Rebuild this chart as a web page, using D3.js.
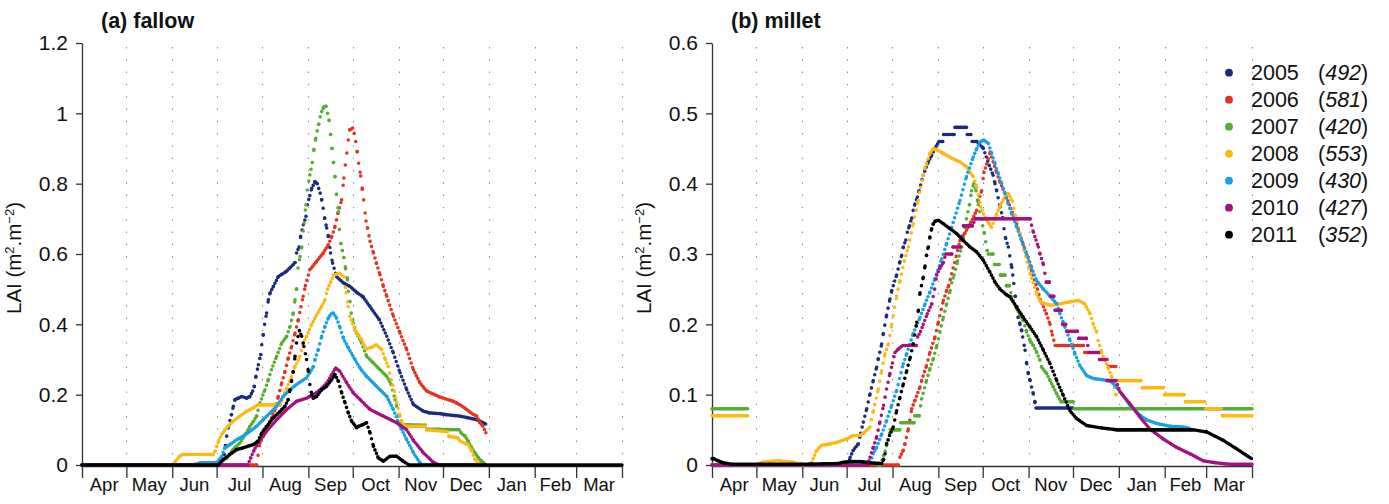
<!DOCTYPE html>
<html>
<head>
<meta charset="utf-8">
<script src="https://cdn.jsdelivr.net/npm/d3@7"></script>
<style>
  body { margin: 0; background: #fff; }
  svg { display: block; font-family: "Liberation Sans", Arial, Helvetica, sans-serif; }
</style>
</head>
<body>
<svg id="chart" width="1389" height="504"></svg>
<script>
// ---- Season (1 April to 31 March), days counted from 1 April ----
const monthLabels = ["Apr", "May", "Jun", "Jul", "Aug", "Sep", "Oct", "Nov", "Dec", "Jan", "Feb", "Mar"];

// ---- Legend: year and seasonal rainfall (mm) ----
const years = ["2005", "2006", "2007", "2008", "2009", "2010", "2011"];
const rainfall = ["492", "581", "420", "553", "430", "427", "352"];
const yearColors = ["#1d2b7e", "#e63222", "#55ad32", "#fdb913", "#17a1e2", "#a3117e", "#000000"];

// ---- Y ticks ----
const fallowTicks = [0, 0.2, 0.4, 0.6, 0.8, 1, 1.2];
const fallowTickLabels = ["0", "0.2", "0.4", "0.6", "0.8", "1", "1.2"];
const milletTicks = [0, 0.1, 0.2, 0.3, 0.4, 0.5, 0.6];
const milletTickLabels = ["0", "0.1", "0.2", "0.3", "0.4", "0.5", "0.6"];

// ---- LAI series: [day since 1 April, LAI]; null marks a gap in the record ----
// (a) fallow
const fallow2005 = [[0,0],[95,0],[96,0.03],[97,0.055],[97.8,0.082],[99,0.11],[101,0.143],[102.3,0.167],[103.4,0.186],[105.6,0.19],[108,0.195],[111.3,0.19],[113.5,0.195],[115.4,0.21],[116.5,0.224],[117.6,0.252],[119.2,0.285],[120.8,0.314],[121.5,0.342],[122.5,0.37],[123.4,0.4],[124.8,0.432],[126,0.47],[127.2,0.49],[129.4,0.508],[132.7,0.536],[138,0.55],[142.8,0.57],[144,0.576],[145,0.603],[146.7,0.62],[147.8,0.65],[149.6,0.683],[151.4,0.707],[152.3,0.74],[154,0.766],[155.3,0.787],[157.5,0.806],[159,0.8],[161,0.773],[162,0.754],[163,0.73],[164,0.702],[165.4,0.674],[166.5,0.65],[168,0.603],[169.4,0.574],[172,0.536],[176.6,0.518],[181,0.508],[186,0.49],[190,0.478],[194.7,0.45],[201,0.413],[206,0.366],[210.4,0.319],[215,0.262],[219.5,0.214],[224,0.172],[230.7,0.153],[235,0.148],[242,0.146],[246.5,0.143],[255.5,0.139],[266.8,0.129],[273.5,0.115]];
const fallow2006 = [[0,0],[118,0],[120.3,0.063],[122.5,0.082],[125,0.1],[127,0.124],[130.4,0.158],[132.7,0.195],[135,0.233],[137.2,0.266],[139.4,0.304],[141.7,0.337],[144,0.375],[146.2,0.413],[148,0.45],[149.5,0.48],[151,0.51],[154,0.555],[158.6,0.579],[163,0.603],[166.5,0.626],[168.8,0.65],[171,0.678],[173,0.716],[175.5,0.754],[177,0.816],[178,0.853],[179,0.887],[180,0.924],[181,0.953],[183,0.958],[184,0.943],[185,0.92],[186,0.891],[187,0.858],[188.4,0.822],[189.5,0.784],[190.4,0.754],[192,0.694],[193,0.674],[194.7,0.636],[197,0.603],[199,0.574],[201.4,0.541],[203.7,0.508],[206,0.48],[210.5,0.423],[215,0.375],[219.5,0.328],[224,0.271],[228.5,0.233],[233,0.21],[242,0.193],[251,0.181],[256,0.17],[260,0.158],[264,0.145],[266.8,0.139],[269,0.12],[271,0.11],[273.5,0.087]];
const fallow2007 = [[0,0],[90,0],[93,0.006],[98,0.02],[102,0.044],[106.8,0.063],[111,0.091],[113.5,0.11],[116,0.125],[118,0.139],[120.3,0.177],[123.7,0.214],[126,0.243],[128,0.271],[131.6,0.309],[135,0.347],[138.4,0.366],[140.6,0.394],[142.8,0.432],[144,0.47],[145,0.5],[146,0.56],[147.4,0.593],[148.5,0.62],[150,0.688],[151.4,0.74],[152.3,0.782],[154,0.825],[154.8,0.841],[155.7,0.86],[156.8,0.898],[158,0.929],[159,0.95],[160,0.969],[161,0.99],[162,1.005],[163.6,1.019],[165,1.02],[167,0.98],[168,0.94],[169,0.9],[170,0.86],[171,0.82],[172,0.77],[173.3,0.72],[174,0.67],[175,0.63],[176,0.61],[177,0.59],[178.2,0.558],[179.4,0.527],[180,0.494],[181,0.465],[182,0.432],[183.4,0.404],[185.6,0.375],[189,0.347],[192.4,0.309],[197,0.29],[201.4,0.271],[206,0.252],[209,0.229],[211.6,0.186],[212.7,0.167],[213.8,0.139],[215,0.115],[232,0.113],[233,0.102],[255,0.1],[256.5,0.09],[258.9,0.082],[261,0.068],[263.4,0.049],[265.6,0.035],[268,0.02],[270,0.011],[271.7,0.006],[273,0]];
const fallow2008 = [[0,0],[61,0],[62,0.005],[64,0.015],[66,0.025],[68,0.03],[88.7,0.03],[90,0.04],[91,0.053],[92.5,0.07],[94.4,0.087],[97.8,0.106],[102,0.124],[106.8,0.139],[111.3,0.153],[115.8,0.162],[119,0.171],[134,0.171],[136,0.195],[138.4,0.219],[141.7,0.252],[144,0.28],[147.3,0.309],[149.6,0.347],[151.8,0.366],[155.3,0.4],[158.6,0.427],[162,0.451],[164.3,0.47],[166,0.5],[168,0.52],[170,0.54],[174,0.545],[177,0.535],[178.5,0.49],[180,0.45],[181,0.423],[184.5,0.385],[189,0.356],[192,0.33],[196,0.335],[199,0.342],[202.6,0.328],[205,0.3],[207,0.28],[209,0.243],[211,0.21],[212.7,0.178],[215,0.139],[216.5,0.12],[218,0.11],[232,0.11],[233,0.1],[247,0.095],[248,0.082],[254,0.077],[255.5,0.068],[261,0.058],[263.5,0.039],[265.6,0.016],[268,0.006],[270,0]];
const fallow2009 = [[0,0],[75,0],[80,0.006],[91,0.006],[94.4,0.025],[96.6,0.049],[100,0.058],[104.6,0.072],[109,0.082],[113.5,0.096],[118,0.11],[122.5,0.129],[127,0.148],[131.6,0.167],[136,0.195],[140.6,0.214],[145,0.229],[151.8,0.248],[154,0.262],[156.4,0.28],[157.5,0.3],[159.7,0.328],[162,0.366],[164.2,0.394],[166.5,0.418],[168.5,0.43],[170,0.432],[172,0.418],[174.4,0.39],[176.6,0.361],[180,0.333],[184.5,0.3],[188,0.275],[192.4,0.252],[199,0.224],[206,0.195],[210.4,0.158],[215,0.11],[219.5,0.072],[224,0.035],[228.5,0.006],[230,0],[273,0]];
const fallow2010 = [[0,0],[112,0],[114,0.02],[116,0.04],[118,0.055],[119,0.063],[124.8,0.096],[131.6,0.129],[138.4,0.158],[145,0.181],[151.8,0.19],[156.4,0.2],[161,0.214],[165.4,0.233],[168.8,0.257],[171.5,0.276],[174.4,0.266],[179,0.233],[183.4,0.205],[188,0.186],[194.7,0.158],[203.6,0.139],[212.7,0.12],[219.5,0.1],[224,0.07],[230.7,0.035],[237.4,0.008],[241,0],[273,0]];
const fallow2011 = [[0,0],[92,0],[95.5,0.016],[100,0.03],[104.6,0.044],[109,0.049],[115.8,0.058],[119,0.068],[121.5,0.091],[124.8,0.11],[129.3,0.134],[134,0.153],[137.2,0.167],[139.4,0.186],[140.6,0.214],[141.7,0.24],[142.8,0.266],[144,0.309],[145,0.347],[146.9,0.382],[148.5,0.366],[150,0.337],[151.8,0.3],[153,0.266],[154,0.229],[155.3,0.2],[156.4,0.19],[158.6,0.195],[162,0.214],[165.4,0.224],[168.8,0.243],[171,0.257],[173.3,0.238],[175.5,0.205],[177.8,0.177],[180,0.148],[182.3,0.124],[185.7,0.106],[187,0.11],[190,0.115],[192.4,0.12],[194.7,0.091],[197,0.053],[200.3,0.02],[203.7,0.011],[208.2,0.025],[212.7,0.025],[217,0.011],[221,0],[365,0]];

// (b) millet
const millet2005 = [[0,0],[92,0],[93.4,0.011],[95.5,0.021],[98.9,0.03],[100.5,0.045],[102.3,0.061],[104.6,0.08],[106.8,0.101],[109,0.12],[111.3,0.139],[112.4,0.151],[114.7,0.172],[115.8,0.187],[118,0.213],[120.3,0.236],[121.5,0.248],[122.5,0.255],[124.8,0.27],[127,0.289],[128.2,0.298],[129.3,0.31],[131,0.32],[132,0.331],[133.4,0.34],[135,0.351],[136,0.362],[137.2,0.371],[138.8,0.381],[140,0.39],[142.8,0.412],[146.2,0.431],[148.5,0.44],[150.5,0.45],[153.5,0.46],[156,0.46],[156.5,0.47],[163.5,0.47],[164.2,0.48],[172,0.48],[172.5,0.47],[175,0.47],[175.8,0.46],[179,0.46],[183.4,0.45],[187.4,0.426],[190,0.412],[191.3,0.4],[192.4,0.39],[194.7,0.367],[196.5,0.352],[197.4,0.336],[198.5,0.322],[200.3,0.31],[202.6,0.281],[203.3,0.27],[204,0.258],[205,0.24],[206,0.225],[207,0.21],[208.2,0.2],[209.3,0.191],[210,0.182],[211.6,0.163],[212.7,0.144],[213.8,0.13],[215,0.12],[216,0.111],[217.2,0.101],[218.3,0.089],[219,0.081],[244,0.081]];
const millet2006 = [[0,0],[126,0],[127,0.011],[129.3,0.021],[130.4,0.03],[132.7,0.051],[135,0.08],[137.2,0.092],[140.6,0.111],[141.7,0.12],[145,0.141],[147.3,0.16],[150.7,0.182],[153,0.203],[156.4,0.234],[158.6,0.248],[160,0.255],[162,0.272],[164,0.288],[167.6,0.319],[171,0.33],[175,0.345],[178.9,0.362],[180,0.376],[182.3,0.39],[183.8,0.416],[185.7,0.428],[188,0.445],[190,0.431],[192.4,0.416],[194.7,0.402],[199,0.381],[206,0.343],[208,0.329],[211,0.31],[214,0.29],[217,0.27],[220,0.25],[222,0.235],[226,0.215],[228.5,0.2],[230,0.185],[232,0.17],[251,0.17],[252,0.16],[262,0.16],[263,0.15],[267,0.15],[268,0.14],[273,0.14]];
const millet2007 = [[0,0.08],[24,0.08],null,[112,0],[114,0],[117,0.02],[119,0.035],[120.5,0.05],[127,0.05],[127.5,0.06],[136.5,0.06],[137,0.07],[140,0.07],[141.7,0.094],[145,0.12],[147.3,0.137],[149.6,0.151],[152,0.17],[154,0.189],[156.4,0.21],[158.6,0.229],[161,0.248],[162,0.259],[163.6,0.27],[166,0.29],[168.8,0.31],[170,0.324],[171,0.338],[172,0.35],[174,0.37],[175.5,0.39],[177,0.4],[178.5,0.39],[180,0.37],[182,0.35],[184,0.33],[186,0.305],[186.7,0.3],[190,0.3],[191,0.285],[194,0.285],[195,0.27],[198,0.27],[199,0.255],[201,0.255],[202.6,0.239],[206,0.222],[210.4,0.205],[212.7,0.189],[215,0.177],[217.2,0.17],[219.5,0.16],[221.7,0.149],[222.8,0.139],[226.2,0.13],[228.5,0.12],[230.7,0.111],[233,0.101],[236,0.09],[244,0.09],[245,0.08],[365,0.08]];
const millet2008 = [[0,0.07],[24,0.07],null,[30,0],[34,0.004],[45,0.006],[55,0.004],[60,0],[66,0],[67.4,0.004],[70.8,0.021],[74,0.028],[80,0.03],[84,0.032],[91,0.037],[95.5,0.042],[100,0.042],[103.4,0.047],[106.8,0.054],[109,0.077],[112.4,0.108],[114.7,0.134],[117,0.158],[119.2,0.172],[121.5,0.2],[124.8,0.24],[127,0.262],[130,0.29],[132.7,0.31],[136,0.343],[139.4,0.376],[141,0.395],[142.8,0.412],[144,0.423],[147.3,0.443],[149.6,0.45],[152,0.448],[156.4,0.443],[163,0.435],[167.6,0.431],[172,0.424],[176.6,0.41],[179,0.395],[181.6,0.367],[185,0.35],[187.4,0.343],[189,0.338],[192.4,0.357],[195,0.37],[198,0.381],[200.3,0.386],[203,0.375],[205,0.355],[207,0.338],[211,0.305],[215,0.272],[219.5,0.243],[222,0.232],[228.5,0.227],[235,0.229],[242,0.232],[247.6,0.234],[252,0.229],[255.5,0.215],[257.7,0.2],[260,0.189],[261,0.177],[263.4,0.16],[265.6,0.149],[268,0.137],[270.2,0.125],[272,0.11],[273,0.1],[274.6,0.12],[290,0.12],[291,0.11],[305,0.11],[306,0.1],[319,0.1],[320,0.09],[333,0.09],[334,0.08],[344,0.08],[345,0.07],[365,0.07]];
const millet2009 = [[0,0],[85,0],[91,0.004],[107,0.004],[109,0.016],[111.3,0.025],[114.7,0.044],[118,0.063],[121.5,0.085],[124.8,0.106],[129.3,0.144],[131.6,0.158],[136,0.187],[140.6,0.21],[144,0.229],[147.3,0.246],[150.7,0.265],[155.3,0.293],[158.6,0.315],[162,0.338],[167.6,0.376],[172,0.41],[176.6,0.438],[179,0.45],[181,0.459],[183.8,0.462],[186.8,0.457],[189,0.443],[191.3,0.428],[193.5,0.414],[195.8,0.4],[198,0.386],[200.3,0.371],[202.6,0.357],[206,0.338],[209.3,0.319],[212.7,0.3],[216,0.281],[219.5,0.262],[224,0.25],[228.5,0.24],[233,0.229],[235.2,0.215],[238.6,0.196],[242,0.177],[245.4,0.158],[248.7,0.141],[253.3,0.127],[257.7,0.123],[264.5,0.121],[269,0.12],[272.4,0.113],[277,0.101],[282.5,0.085],[288,0.073],[293.8,0.064],[300.6,0.059],[309.6,0.055],[318.6,0.054],[323,0.052]];
const millet2010 = [[0,0],[105,0],[106.8,0.011],[109,0.025],[111.3,0.04],[113.5,0.061],[116,0.085],[118,0.108],[120.3,0.13],[122,0.145],[123.7,0.16],[126,0.165],[129,0.17],[138,0.17],[139,0.182],[141,0.19],[142.8,0.2],[145.5,0.215],[148.5,0.229],[150.5,0.25],[151.9,0.27],[154,0.28],[156.4,0.288],[158,0.3],[162,0.3],[163,0.31],[168,0.31],[170,0.34],[176,0.34],[178,0.35],[215,0.35],[216,0.341],[217.2,0.331],[219,0.32],[220.6,0.31],[221.7,0.3],[224,0.285],[226,0.26],[228,0.26],[229,0.24],[231,0.24],[232,0.22],[236,0.22],[237,0.2],[239,0.2],[240,0.19],[247,0.19],[248,0.18],[253,0.18],[255,0.16],[261,0.16],[262,0.15],[266,0.15],[267,0.12],[273,0.12],[275.8,0.104],[282.5,0.087],[289.3,0.068],[296,0.051],[305,0.037],[314,0.025],[323,0.016],[332,0.006],[341,0.003],[350,0.001],[365,0.001]];
const millet2011 = [[0,0.009],[1,0.009],[4,0.006],[7.7,0.003],[14,0.001],[60,0.001],[85,0.002],[88.7,0.004],[95,0.005],[100,0.005],[106.8,0.003],[114.7,0.002],[116,0.008],[117,0.016],[118,0.03],[120,0.042],[122.5,0.054],[124.8,0.077],[127,0.096],[129.3,0.115],[131.6,0.134],[134,0.153],[136,0.172],[138.4,0.203],[139.5,0.22],[140.6,0.245],[142.8,0.267],[144,0.283],[145,0.298],[146.2,0.31],[147.3,0.324],[148.5,0.336],[149.6,0.343],[151,0.347],[153,0.348],[156.4,0.343],[160.9,0.336],[165.4,0.329],[169.9,0.319],[174.4,0.31],[178.9,0.303],[183.4,0.291],[187.9,0.274],[191.3,0.26],[194.7,0.25],[199,0.242],[201.4,0.239],[206,0.224],[210.4,0.21],[215,0.196],[219.5,0.182],[224,0.163],[228.5,0.144],[233,0.12],[237.4,0.099],[242,0.077],[246.5,0.066],[253.3,0.056],[262.3,0.053],[273.5,0.05],[289.3,0.05],[311.8,0.05],[325.3,0.05],[334.4,0.047],[345.6,0.035],[354.6,0.023],[364.7,0.009]];

// ---- Layout ----
const svg = d3.select("#chart");
const seasonStart = new Date(Date.UTC(2005, 3, 1));
const seasonEnd = new Date(Date.UTC(2006, 3, 1));
const plotWidth = 540, yBottom = 465, yTop = 43, axisY = 466;
const axisColor = "#333";

const panels = [
  { title: "(a) fallow", left: 82, yMax: 1.2, ticks: fallowTicks, labels: fallowTickLabels,
    series: [fallow2005, fallow2006, fallow2007, fallow2008, fallow2009, fallow2010, fallow2011] },
  { title: "(b) millet", left: 712, yMax: 0.6, ticks: milletTicks, labels: milletTickLabels,
    series: [millet2005, millet2006, millet2007, millet2008, millet2009, millet2010, millet2011] }
];

panels.forEach(p => {
  const g = svg.append("g");
  const x = d3.scaleUtc().domain([seasonStart, seasonEnd]).range([p.left, p.left + plotWidth]);
  const y = d3.scaleLinear().domain([0, p.yMax]).range([yBottom, yTop]);
  const dayX = d => x(new Date(seasonStart.getTime() + d * 864e5));

  const monthStarts = d3.utcMonth.range(seasonStart, seasonEnd);
  const bounds = monthStarts.concat([seasonEnd]);

  // dotted month grid
  g.append("g").selectAll("line").data(bounds.slice(1)).join("line")
    .attr("x1", d => Math.round(x(d)) + 0.5).attr("x2", d => Math.round(x(d)) + 0.5)
    .attr("y1", yTop + 4).attr("y2", yBottom - 2)
    .attr("stroke", "#8a8a8a").attr("stroke-width", 1.1)
    .attr("stroke-dasharray", "1.4,10.9");

  // x axis with month ticks
  const xa = g.append("g").attr("transform", `translate(0,${axisY})`)
    .call(d3.axisBottom(x).tickValues(bounds).tickSize(12).tickSizeOuter(0).tickFormat(""));
  xa.select(".domain").attr("stroke", axisColor).attr("stroke-width", 1.3);
  xa.selectAll(".tick line").attr("stroke", axisColor).attr("stroke-width", 1.3);

  // month names centred in each month
  g.append("g").selectAll("text").data(monthStarts).join("text")
    .attr("x", (d, i) => (x(d) + x(bounds[i + 1])) / 2)
    .attr("y", 491)
    .attr("text-anchor", "middle")
    .attr("font-size", 18.5).attr("fill", "#111")
    .text((d, i) => monthLabels[i]);

  // y axis
  const ya = g.append("g").attr("transform", `translate(${p.left},0)`)
    .call(d3.axisLeft(y).tickValues(p.ticks).tickFormat((d, i) => p.labels[i])
      .tickSize(6).tickPadding(8).tickSizeOuter(0));
  ya.select(".domain").attr("stroke", axisColor).attr("stroke-width", 1.3);
  ya.selectAll(".tick line").attr("stroke", axisColor).attr("stroke-width", 1.3);
  ya.selectAll(".tick text").attr("font-size", 21).attr("fill", "#111")
    .attr("font-family", "Liberation Sans, Arial, sans-serif");

  // y axis title
  const yt = g.append("text")
    .attr("transform", `translate(${p.left - 61},${(yTop + yBottom) / 2 + 4}) rotate(-90)`)
    .attr("text-anchor", "middle").attr("font-size", 20.5).attr("fill", "#111");
  yt.append("tspan").text("LAI (m");
  yt.append("tspan").attr("dy", -7).attr("font-size", 13).text("2");
  yt.append("tspan").attr("dy", 7).text(".m");
  yt.append("tspan").attr("dy", -7).attr("font-size", 13).text("\u22122");
  yt.append("tspan").attr("dy", 7).text(")");

  // panel title
  g.append("text").attr("x", p.left + 19).attr("y", 28)
    .attr("font-size", 21.5).attr("font-weight", "bold").attr("fill", "#111")
    .text(p.title);

  // daily points: each stretch between two records is stroked with one dot per day
  p.series.forEach((pts, si) => {
    const sg = g.append("g")
      .attr("stroke", yearColors[si]).attr("stroke-width", 3.6)
      .attr("stroke-linecap", "round").attr("fill", "none");
    const segs = [];
    for (let i = 1; i < pts.length; i++) {
      const a = pts[i - 1], b = pts[i];
      if (!a || !b) continue;
      segs.push([a, b]);
    }
    sg.selectAll("line").data(segs).join("line")
      .attr("x1", s => dayX(s[0][0])).attr("y1", s => y(s[0][1]))
      .attr("x2", s => dayX(s[1][0])).attr("y2", s => y(s[1][1]))
      .attr("stroke-dasharray", s => {
        const len = Math.hypot(dayX(s[1][0]) - dayX(s[0][0]), y(s[1][1]) - y(s[0][1]));
        const step = len / (s[1][0] - s[0][0]);
        return `0,${Math.max(step, 0.01).toFixed(3)}`;
      });
  });
});

// ---- Legend ----
const legend = svg.append("g");
years.forEach((yr, i) => {
  const cy = 72.7 + i * 27;
  legend.append("circle").attr("cx", 1229).attr("cy", cy).attr("r", 3.9).attr("fill", yearColors[i]);
  const t = legend.append("text").attr("y", cy + 7.6).attr("font-size", 21.5).attr("fill", "#111");
  t.append("tspan").attr("x", 1251).text(yr);
  t.append("tspan").attr("x", 1318).text("(");
  t.append("tspan").attr("font-style", "italic").text(rainfall[i]);
  t.append("tspan").text(")");
});
</script>
</body>
</html>
